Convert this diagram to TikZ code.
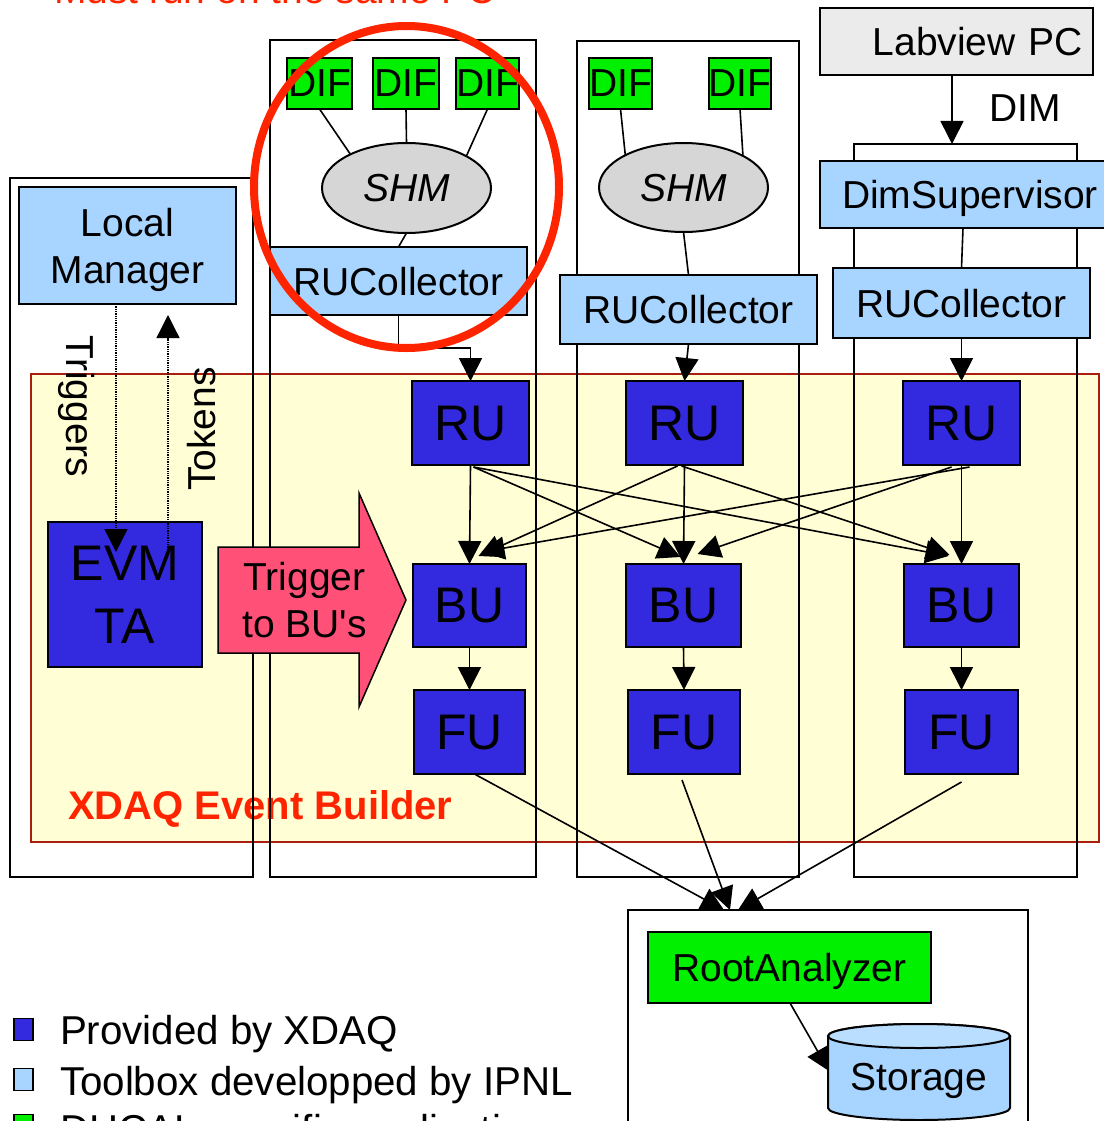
\documentclass[tikz,border=0pt]{standalone}
\usepackage{fontspec}
\setmainfont{Liberation Sans}
\usetikzlibrary{arrows.meta,calc,shapes.geometric}
\definecolor{xdaq}{RGB}{51,42,224}
\definecolor{ipnl}{RGB}{168,213,255}
\definecolor{ipnltop}{RGB}{186,222,255}
\definecolor{dhcal}{RGB}{0,240,0}
\definecolor{lvgray}{RGB}{235,235,235}
\definecolor{shmgray}{RGB}{214,214,214}
\definecolor{band}{RGB}{255,254,212}
\definecolor{bandline}{RGB}{170,30,15}
\definecolor{trig}{RGB}{255,80,120}
\definecolor{redmark}{RGB}{255,36,0}
\begin{document}
\begin{tikzpicture}[x=1pt,y=-1pt,
  every node/.style={inner sep=0pt, outer sep=0pt, text depth=0pt, font=\fontsize{39}{47}\selectfont},
  sz/.style 2 args={minimum width=#1pt, minimum height=#2pt},
  bx/.style={draw=black, line width=2pt},
  xdbox/.style={bx, fill=xdaq, font=\fontsize{50}{63}\selectfont},
  lbbox/.style={bx, fill=ipnl},
  grbox/.style={bx, fill=dhcal},
  shmbox/.style={bx, ellipse, fill=shmgray, font=\fontsize{39}{47}\selectfont\itshape},
  cont/.style={draw=black, line width=2pt},
  conn/.style={line width=1.6pt},
  arrhead/.style={-{Triangle[length=23pt,width=23pt]}},
  arr/.style={conn, arrhead},
  dotl/.style={line width=1.3pt, densely dotted, arrhead},
  legtext/.style={anchor=base west, font=\fontsize{40.3}{48}\selectfont},
]
\useasboundingbox (0,0) rectangle (1103,1121);
\fill[white] (0,0) rectangle (1103,1121);

% title (cut off at top)
\node[anchor=base west, text=redmark] (must) at (54,3.5) {Must run on the same PC};

% event builder band
\filldraw[fill=band, draw=bandline, line width=1.2pt] (31,374) rectangle (1099,842);
\node[anchor=base west, text=redmark, font=\bfseries\fontsize{40}{48}\selectfont] (ebl) at (68,819) {XDAQ Event Builder};

% PC containers
\node[cont, sz={243}{699}] (C1) at (131.5,527.5) {};
\node[cont, sz={266}{837}] (C2) at (403,458.5) {};
\node[cont, sz={222}{836}] (C3) at (688,459) {};
\node[cont, sz={223}{733}] (C4) at (965.5,510.5) {};
\node[cont, sz={400}{240}] (BC) at (828,1030) {};

% top-level nodes
\node[lbbox, sz={217}{117}, align=center] (LM) at (127.5,245.5) {Local\\Manager};
\node[bx, fill=lvgray, text width=253pt, align=right, inner xsep=10pt, minimum height=67pt] (LV) at (956.5,41.5) {Labview PC};
\node (DIM) at (1025,108) {DIM};
\node[lbbox, sz={300}{67}] (DS) at (970,194.5) {DimSupervisor};

\node[grbox, sz={65}{51}] (D21) at (319.5,83.5) {DIF};
\node[grbox, sz={66}{51}] (D22) at (406,83.5) {DIF};
\node[grbox, sz={61}{51}] (D23) at (487.5,83.5) {DIF};
\node[grbox, sz={61}{51}] (D31) at (620.5,83.5) {DIF};
\node[grbox, sz={62}{51}] (D32) at (740,83.5) {DIF};

\node[shmbox, sz={169}{90}] (SHM2) at (406.5,188) {SHM};
\node[shmbox, sz={169}{89}] (SHM3) at (683.5,187.5) {SHM};

\node[lbbox, sz={257}{68}] (RUC2) at (398.5,281) {RUCollector};
\node[lbbox, sz={257}{69}] (RUC3) at (688.5,309.5) {RUCollector};
\node[lbbox, sz={257}{70}] (RUC4) at (961.5,303) {RUCollector};

\node[xdbox, sz={117}{84}] (RU1) at (470.5,423) {RU};
\node[xdbox, sz={117}{84}] (RU2) at (684.5,423) {RU};
\node[xdbox, sz={117}{84}] (RU3) at (961.5,423) {RU};
\node[xdbox, sz={113}{83}] (BU1) at (469.5,605.5) {BU};
\node[xdbox, sz={115}{83}] (BU2) at (683.5,605.5) {BU};
\node[xdbox, sz={115}{83}] (BU3) at (961.5,605.5) {BU};
\node[xdbox, sz={111}{84}] (FU1) at (469.5,732) {FU};
\node[xdbox, sz={112}{84}] (FU2) at (684,732) {FU};
\node[xdbox, sz={113}{84}] (FU3) at (961.5,732) {FU};
\node[xdbox, sz={154}{145}, align=center] (EVM) at (125,594.5) {EVM\\TA};

% trigger arrow
\filldraw[fill=trig, draw=black, line width=1.5pt] (218,547) -- (359,547) -- (359,493) -- (406,600) -- (359,707) -- (359,653) -- (218,653) -- cycle;
\node[align=center] (TRG) at (304.5,599.5) {Trigger\\to BU\textquotesingle s};

\node[rotate=-90] (TGL) at (81,406.5) {Triggers};
\node[rotate=90] (TKL) at (201,429) {Tokens};

% storage PC
\node[grbox, sz={283}{71}] (RA) at (789.5,967.5) {RootAnalyzer};
\path[draw=black, line width=2pt, fill=ipnl] (828,1036) -- (828,1108)
  arc[start angle=180, end angle=360, x radius=91pt, y radius=12pt] -- (1010,1036)
  arc[start angle=0, end angle=180, x radius=91pt, y radius=12pt] -- cycle;
\filldraw[fill=ipnltop, draw=black, line width=2pt] (919,1036) ellipse [x radius=91pt, y radius=12pt];
\node (ST) at (919,1077) {Storage};
\coordinate (STin) at (829,1071);

% legend
\node[draw, line width=1.5pt, fill=xdaq, sz={19}{22}] (L1) at (23.5,1029.5) {};
\node[legtext] (L1t) at (60,1044) {Provided by XDAQ};
\node[draw, line width=1.5pt, fill=ipnl, sz={19}{22}] (L2) at (23.5,1079.5) {};
\node[legtext] (L2t) at (60,1095) {Toolbox developped by IPNL};
\node[draw, line width=1.5pt, fill=dhcal, sz={19}{22}] (L3) at (23.5,1125.5) {};
\node[legtext] (L3t) at (60,1143) {DHCAL specific application};

% connectors
\draw[arr] ($(LV.south)+(-4.5,0)$) -- ($(C4.north)+(-13.5,0)$);
\draw[conn] (D21.south) -- (SHM2.149);
\draw[conn] (D22.south) -- (SHM2.north);
\draw[conn] (D23.south) -- (SHM2.28);
\draw[conn] (D31.south) -- (SHM3.151);
\draw[conn] (D32.south) -- (SHM3.28);
\draw[conn] (SHM2.south) -- (RUC2.north);
\draw[conn] (SHM3.south) -- (RUC3.north);
\draw[conn] ($(DS.south)+(-7,0)$) -- (RUC4.north);

\draw[arr] (RUC2.south) -- ++(0,33) -| (RU1.north);
\draw[arr] (RUC3.south) -- (RU2.north);
\draw[arr] (RUC4.south) -- (RU3.north);

\draw[arr] (RU1.south) -- (BU1.north);
\draw[arr] (RU2.south) -- (BU2.north);
\draw[arr] (RU3.south) -- (BU3.north);
\draw[arr] ($(RU1.south)+(3,2)$) -- ($(BU2.north)+(-3,-7)$);
\draw[arr] ($(RU1.south)+(3,2)$) -- ($(BU3.north)+(-13,-8)$);
\draw[arr] ($(RU2.south)+(-7,1)$) -- ($(BU1.north)+(9,-8)$);
\draw[arr] ($(RU2.south)+(-3,1)$) -- ($(BU3.north)+(-12,-9)$);
\draw[arr] ($(RU3.south)+(8,2)$) -- ($(BU1.north)+(12,-12)$);
\draw[arr] ($(RU3.south)+(-10,2)$) -- ($(BU2.north)+(14,-10)$);

\draw[arr] (BU1.south) -- (FU1.north);
\draw[arr] (BU2.south) -- (FU2.north);
\draw[arr] (BU3.south) -- (FU3.north);

\draw[arr] ($(FU1.south)+(5,0)$) -- ($(BC.north)+(-104,0)$);
\draw[arr] ($(FU2.south)+(-2,6)$) -- ($(BC.north)+(-98,0)$);
\draw[arr] ($(FU3.south)+(0,8)$) -- ($(BC.north)+(-90,0)$);

\draw[arr] ($(RA.south)+(0.5,0)$) -- (STin);

\draw[dotl] ($(LM.south)+(-11.5,0)$) -- ($(EVM.north)+(-9,30)$);
\draw[dotl] ($(EVM.north)+(43,28)$) -- ($(LM.south)+(40.5,11)$);

% highlight circle
\draw[redmark, line width=8pt] (406.5,187) ellipse [x radius=152.5pt, y radius=161pt];
\end{tikzpicture}
\end{document}
